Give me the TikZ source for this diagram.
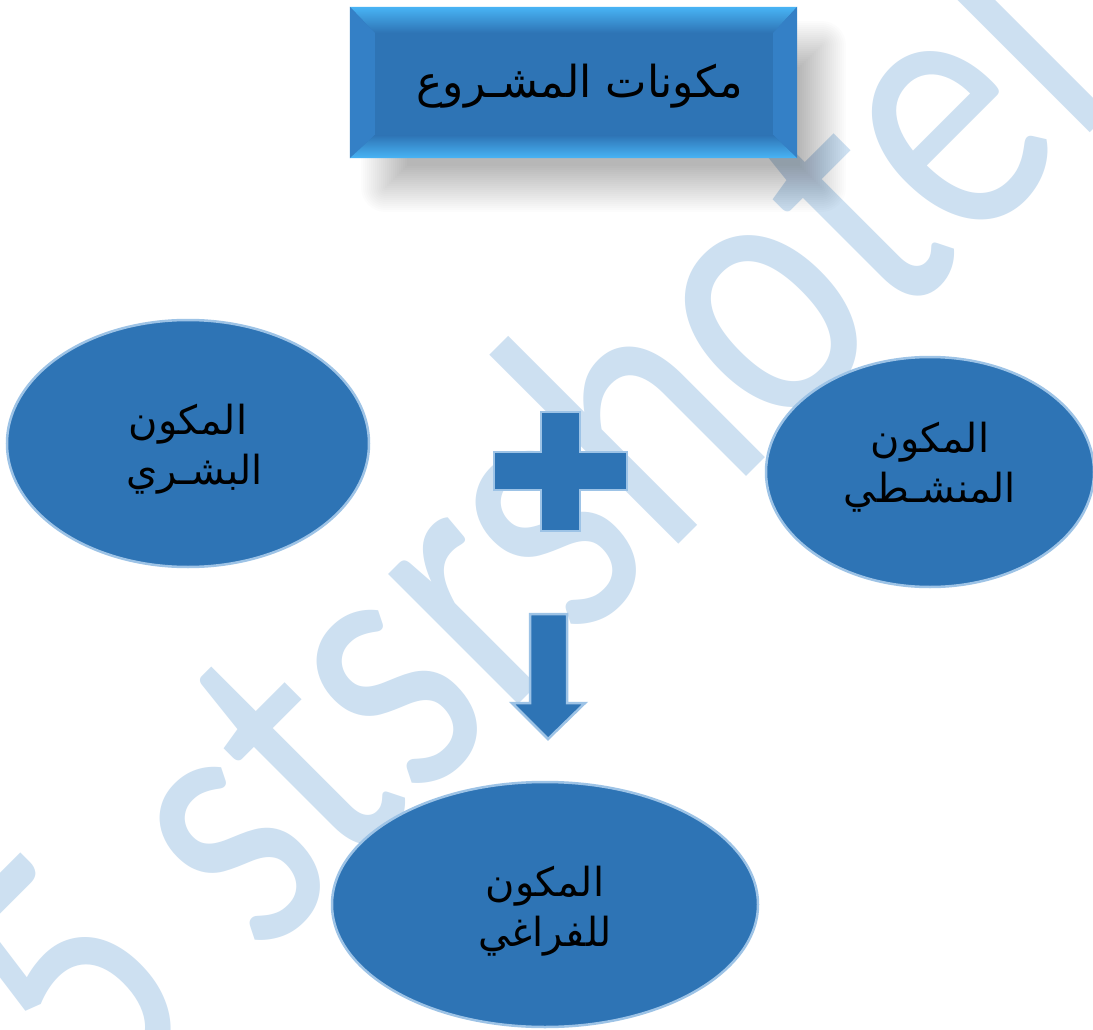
\documentclass[tikz,border=0pt]{standalone}
\usepackage{fontspec}
\newfontfamily\arabicfont[Script=Arabic]{DejaVu Sans}
\newfontfamily\wmfont{Carlito}
\TeXXeTstate=1
\usetikzlibrary{shapes.geometric,calc}
\definecolor{face}{RGB}{46,116,181}
\definecolor{edgeblue}{RGB}{157,195,230}
\definecolor{wmblue}{RGB}{205,224,241}
\definecolor{bevlight}{RGB}{72,180,245}
\definecolor{bevside}{RGB}{52,128,198}
\begin{document}
\begin{tikzpicture}[x=1pt,y=-1pt,
  comp/.style={ellipse, draw=edgeblue, line width=2.5pt, fill=face, inner sep=0pt},
  comptext/.style={align=center, inner sep=0pt, text=black,
    font=\arabicfont\fontsize{40}{50}\selectfont},
  shapefill/.style={draw=edgeblue, line width=2.5pt, fill=face, line join=miter},
  wmark/.style={anchor=base west, rotate=45, xscale=0.806, text=wmblue, inner sep=0pt,
    font=\wmfont\fontsize{385}{385}\selectfont}]
\useasboundingbox (0,0) rectangle (1093,1030);
\fill[white] (0,0) rectangle (1093,1030);
% watermark
\node[wmark] (wm) at (101,1122) {5 stsrshotel};
% shadow of the title box
\foreach \i [evaluate=\i as \e using {24-2*\i},
             evaluate=\i as \r using {max(24-2*\i,0)+0.5}] in {0,...,23}
  \fill[black, opacity=0.013, rounded corners=\r pt]
    (385-\e,45-\e) rectangle (822+\e,188+\e);
% title box
\node[rectangle, minimum width=447pt, minimum height=151pt, fill=face, inner sep=0pt]
  (title) at (573.5,82.5) {};
\shade[top color=bevlight, bottom color=face] (title.north west) -- (title.north east)
  -- ($(title.north east)+(-24,26)$) -- ($(title.north west)+(25,26)$) -- cycle;
\fill[bevside] (title.north west) -- ($(title.north west)+(25,26)$)
  -- ($(title.south west)+(25,-23)$) -- (title.south west) -- cycle;
\fill[bevside] (title.north east) -- ($(title.north east)+(-24,26)$)
  -- ($(title.south east)+(-24,-23)$) -- (title.south east) -- cycle;
\shade[top color=face, bottom color=bevlight] (title.south west) -- (title.south east)
  -- ($(title.south east)+(-24,-23)$) -- ($(title.south west)+(25,-23)$) -- cycle;
\node[anchor=base, inner sep=0pt, text=black,
  font=\arabicfont\fontsize{44}{44}\selectfont] (titletext) at (580,98)
  {\beginR مكونات المشـروع\endR};
% components
\node[comp, minimum width=362pt, minimum height=247pt] (human) at (188,443.5) {};
\node[comp, minimum width=328pt, minimum height=230pt] (activity) at (930,472) {};
\node[comp, minimum width=426pt, minimum height=245pt] (space) at (545,904.5) {};
\node[comptext] (humantext) at ($(human.center)+(0,6)$)
  {\beginR المكون\endR\\\hspace*{13pt}\beginR البشـري\endR};
\node[comptext] (activitytext) at ($(activity.center)+(0,-5)$)
  {\beginR المكون\endR\\\beginR المنشـطي\endR};
\node[comptext] (spacetext) at ($(space.center)+(0,7)$)
  {\beginR المكون\endR\\\beginR للفراغي\endR};
% plus sign
\draw[shapefill] (541,412) -- (580,412) -- (580,452) -- (627,452) -- (627,490)
  -- (580,490) -- (580,531) -- (541,531) -- (541,490) -- (494,490) -- (494,452)
  -- (541,452) -- cycle;
% down arrow
\draw[shapefill] (530,614) -- (567,614) -- (567,703) -- (585,703) -- (548,739)
  -- (512,703) -- (530,703) -- cycle;
\end{tikzpicture}
\end{document}
